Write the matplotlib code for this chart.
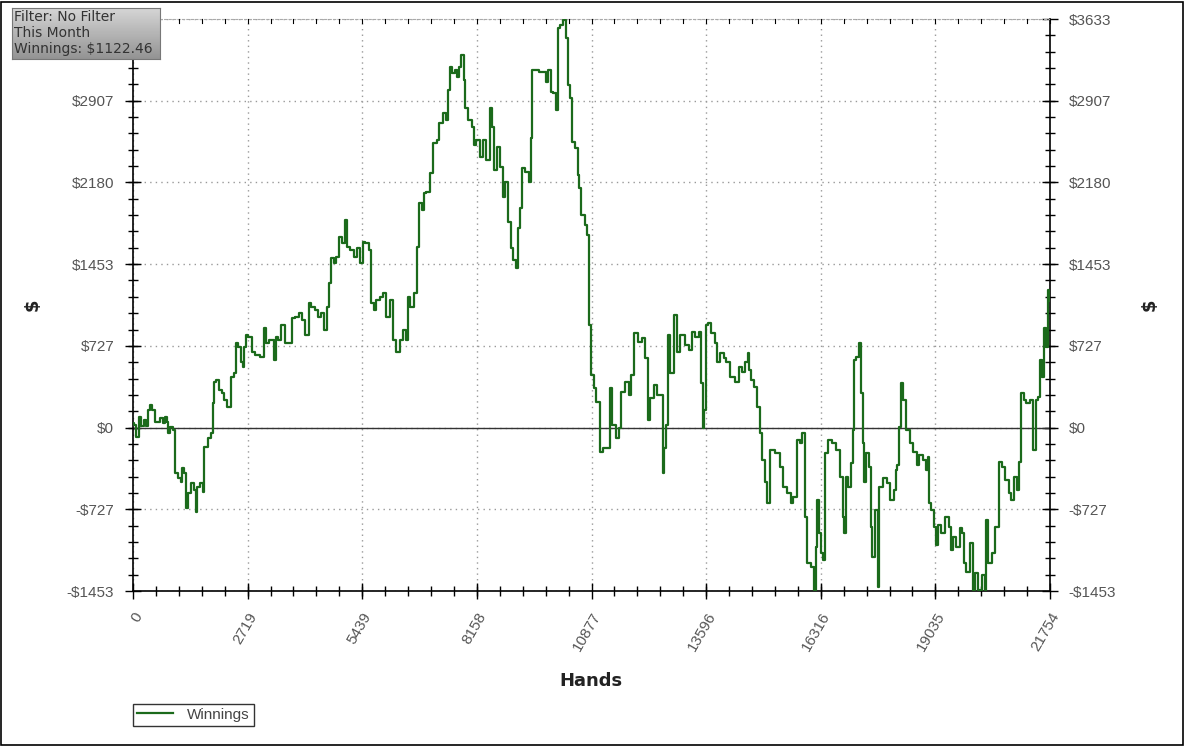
import numpy as np
import matplotlib
matplotlib.use("Agg")
import matplotlib.pyplot as plt
from matplotlib.patches import Rectangle

# cumulative winnings (hands played, $)
hands = [0, 47, 95, 142, 142, 214, 285, 332, 356, 451, 474, 593, 688, 735, 783, 807, 854, 925, 996, 996,
         1020, 1115, 1162, 1186, 1234, 1281, 1352, 1423, 1471, 1518, 1542, 1637, 1684, 1708, 1827, 1874, 1898, 1945, 2016, 2064,
         2135, 2206, 2254, 2301, 2349, 2420, 2467, 2538, 2586, 2610, 2657, 2704, 2776, 2847, 2942, 3084, 3108, 3179, 3250, 3321,
         3369, 3416, 3487, 3558, 3653, 3725, 3796, 3891, 3962, 4033, 4128, 4199, 4270, 4365, 4436, 4507, 4555, 4626, 4673, 4721,
         4792, 4863, 4911, 4982, 5053, 5101, 5195, 5267, 5338, 5433, 5456, 5575, 5622, 5670, 5741, 5812, 5907, 5978, 6049, 6144,
         6215, 6286, 6381, 6453, 6500, 6524, 6619, 6690, 6761, 6809, 6880, 6927, 6998, 7093, 7164, 7236, 7283, 7402, 7449, 7473,
         7568, 7591, 7686, 7710, 7757, 7829, 7852, 7923, 7995, 8066, 8113, 8184, 8279, 8350, 8422, 8493, 8540, 8611, 8659, 8754,
         8778, 8872, 8920, 8991, 9062, 9110, 9133, 9228, 9252, 9347, 9418, 9465, 9489, 9774, 9821, 9892, 9940, 10011, 10059, 10082,
         10177, 10248, 10296, 10320, 10414, 10438, 10533, 10557, 10604, 10675, 10770, 10794, 10841, 10889, 10960, 11031, 11126, 11197, 11268, 11363,
         11387, 11506, 11553, 11600, 11743, 11790, 11838, 11909, 12028, 12099, 12194, 12217, 12312, 12384, 12455, 12550, 12573, 12621, 12668, 12692,
         12787, 12858, 12929, 13024, 13143, 13214, 13285, 13380, 13451, 13499, 13523, 13570, 13617, 13688, 13759, 13854, 13878, 13973, 14044, 14115,
         14210, 14329, 14400, 14471, 14566, 14590, 14637, 14708, 14756, 14827, 14922, 14945, 15040, 15064, 15159, 15278, 15396, 15467, 15586, 15633,
         15705, 15776, 15871, 15894, 15989, 16013, 16132, 16179, 16226, 16250, 16297, 16345, 16416, 16440, 16535, 16653, 16725, 16820, 16843, 16891,
         16938, 17009, 17057, 17081, 17128, 17199, 17247, 17294, 17318, 17365, 17413, 17484, 17531, 17555, 17650, 17674, 17721, 17840, 17911, 18006,
         18077, 18124, 18148, 18195, 18243, 18314, 18385, 18480, 18551, 18623, 18670, 18789, 18836, 18860, 18907, 18978, 19026, 19073, 19144, 19216,
         19311, 19382, 19429, 19500, 19571, 19666, 19690, 19737, 19809, 19904, 19927, 20022, 20093, 20165, 20236, 20259, 20331, 20402, 20497, 20568,
         20639, 20734, 20805, 20853, 20924, 20995, 21042, 21113, 21161, 21232, 21327, 21398, 21446, 21469, 21564, 21588, 21635, 21683, 21707, 21754]
winnings = [44, 27, -80, -80, 98, 18, 71, 18, 160, 205, 160, 53, 89, 44, 98, 53, -44, 9, -18, -258,
            -400, -445, -480, -356, -400, -711, -578, -489, -551, -747, -525, -489, -569, -169, -89, -44, 222, 409, 427, 338,
            311, 249, 187, 187, 453, 489, 756, 720, 587, 542, 720, 827, 809, 676, 649, 631, 889, 756, 782, 782,
            605, 809, 782, 916, 756, 756, 978, 987, 1023, 960, 827, 1112, 1076, 1049, 987, 1023, 871, 1076, 1289, 1512,
            1467, 1521, 1698, 1645, 1850, 1609, 1583, 1521, 1601, 1467, 1654, 1645, 1583, 1112, 1049, 1138, 1165, 1200, 987, 1138,
            782, 676, 782, 871, 782, 1165, 1076, 1200, 1609, 2001, 1938, 2090, 2098, 2267, 2534, 2561, 2712, 2801, 2739, 3005,
            3210, 3157, 3183, 3121, 3210, 3317, 3094, 2845, 2739, 2677, 2516, 2561, 2410, 2561, 2383, 2845, 2677, 2294, 2499, 2321,
            2054, 2187, 1832, 1601, 1494, 1423, 1778, 1956, 2312, 2276, 2187, 2579, 3183, 3166, 3077, 3183, 2988, 2979, 2828, 3557,
            3583, 3628, 3468, 3050, 2934, 2543, 2490, 2250, 2134, 1894, 1805, 1716, 916, 471, 356, 231, -213, -178, -178, 356,
            27, -89, 0, 320, 409, 293, 471, 845, 765, 800, 622, 71, 267, 382, 293, 293, -400, -178, 27, 827,
            489, 1005, 676, 827, 738, 694, 854, 809, 854, 400, 0, 160, 916, 934, 845, 756, 587, 667, 622, 587,
            453, 409, 542, 498, 587, 667, 516, 427, 365, 187, -44, -285, -480, -667, -196, -222, -347, -525, -578, -667,
            -614, -107, -133, -44, -791, -1200, -1236, -1441, -1058, -640, -934, -1112, -1174, -222, -107, -133, -196, -436, -791, -934,
            -436, -525, -311, -18, 605, 631, 756, 311, -133, -480, -222, -347, -880, -1147, -729, -1414, -525, -445, -489, -640,
            -551, -373, -329, 9, 400, 249, -18, -133, -213, -329, -240, -285, -373, -258, -667, -729, -880, -1040, -863, -934,
            -791, -880, -1085, -969, -1058, -889, -934, -1200, -1280, -1023, -1441, -1289, -1441, -1307, -1441, -818, -1200, -1112, -880, -302,
            -347, -462, -578, -640, -436, -551, -302, 311, 249, 222, 249, -196, 249, 276, 605, 453, 889, 720, 1227, 1122.46]

x_ticks = [0, 2719, 5439, 8158, 10877, 13596, 16316, 19035, 21754]
y_ticks = [-1453, -727, 0, 727, 1453, 2180, 2907, 3633]
y_labels = ['-$1453', '-$727', '$0', '$727', '$1453', '$2180', '$2907', '$3633']
info_lines = ["Filter: No Filter", "This Month", "Winnings: $1122.46"]

W, H = 1185, 746
fig = plt.figure(figsize=(W / 100, H / 100), dpi=100)
ax = fig.add_axes([133 / W, (H - 591) / H, (1050 - 133) / W, (591 - 19) / H])

ax.plot(hands, winnings, drawstyle='steps-mid', color='#1b6a1b', lw=1.6, label='Winnings', zorder=3)
ax.axhline(0, color='#333333', lw=1.0, zorder=2)

ax.set_xlim(0, 21754)
ax.set_ylim(-1453, 3633)
ax.set_xticks(x_ticks)
ax.set_xticklabels([str(t) for t in x_ticks], rotation=60, ha='right', va='top',
                   rotation_mode='anchor', family='Liberation Sans', fontsize=11, color='#555555')
ax.set_yticks(y_ticks)
ax.set_yticklabels(y_labels, family='Liberation Sans', fontsize=11, color='#555555')
ax.set_xticks(np.linspace(0, 21754, 41), minor=True)
ax.set_yticks(np.linspace(-1453, 3633, 36), minor=True)

ax.tick_params(axis='both', which='major', direction='inout', length=11, width=1, color='black')
ax.tick_params(axis='both', which='minor', direction='inout', length=7, width=1, color='black')
ax.tick_params(axis='y', which='both', left=True, right=True, labelleft=True, labelright=True, pad=8)
ax.tick_params(axis='x', which='both', bottom=True, top=False, pad=8)
# left $3633 label sits under the info box in the original
ax.yaxis.get_major_ticks()[-1].label1.set_visible(False)

ax.grid(True, which='major', linestyle=(0, (1, 3)), color='#999999', lw=1)
for side in ['left', 'right', 'bottom']:
    ax.spines[side].set_color('black')
    ax.spines[side].set_linewidth(1.2)
ax.spines['top'].set_color('#aaaaaa')
ax.spines['top'].set_linestyle((0, (2, 2)))

# small ticks along the top edge
for xm in np.linspace(0, 21754, 41):
    ax.plot([xm, xm], [3633, 3633 - 40], color='black', lw=0.8, clip_on=False, zorder=4)

fig.text(591 / W, 1 - 681 / H, 'Hands', ha='center', va='center', fontsize=13,
         fontweight='bold', family='DejaVu Sans', color='#222222')
fig.text(33 / W, 1 - 305 / H, '$', ha='center', va='center', rotation=90, fontsize=13,
         fontweight='bold', family='DejaVu Sans', color='#222222')
fig.text(1150 / W, 1 - 305 / H, '$', ha='center', va='center', rotation=90, fontsize=13,
         fontweight='bold', family='DejaVu Sans', color='#222222')

leg = fig.legend(loc='upper left', bbox_to_anchor=(133 / W, 1 - 704 / H), frameon=True,
                 fancybox=False, handlelength=2.4, borderpad=0.25, handletextpad=0.9,
                 borderaxespad=0, prop={'family': 'Liberation Sans', 'size': 11})
leg.get_frame().set_edgecolor('black')
leg.get_frame().set_linewidth(1)
for t in leg.get_texts():
    t.set_color('#444444')

# info box with grey gradient
bx = fig.add_axes([12 / W, 1 - 59 / H, (160 - 12) / W, (59 - 8) / H], zorder=10)
grad = np.linspace(0.84, 0.58, 50).reshape(-1, 1)
bx.imshow(grad, cmap='gray', vmin=0, vmax=1, aspect='auto', extent=[0, 1, 0, 1])
bx.set_xticks([])
bx.set_yticks([])
for s in bx.spines.values():
    s.set_color('#777777')
for i, line in enumerate(info_lines):
    bx.text(0.015, 0.82 - i * 0.31, line, transform=bx.transAxes, ha='left', va='center',
            fontsize=10, family='DejaVu Sans', color='#333333')

fig.patches.append(Rectangle((1 / W, 1 / H), (W - 3) / W, (H - 3) / H, transform=fig.transFigure,
                             fill=False, edgecolor='black', lw=1.2))

fig.savefig('out.png', dpi=100)
